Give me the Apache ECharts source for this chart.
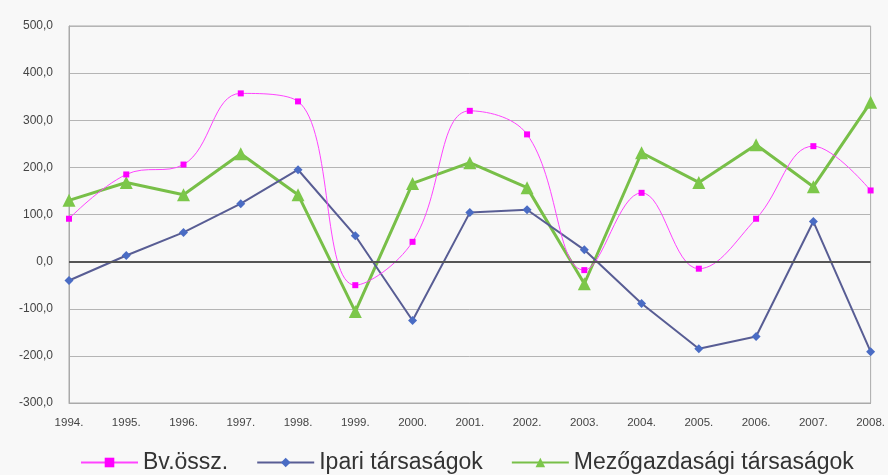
<!DOCTYPE html>
<html>
<head>
<meta charset="utf-8">
<script src="https://cdn.jsdelivr.net/npm/echarts@6/dist/echarts.min.js"></script>
<style>
  html, body { margin: 0; padding: 0; background: #f8f8f8; }
  #chart { width: 888px; height: 475px; }
</style>
</head>
<body>
<div id="chart"></div>
<script>
const years = ['1994.', '1995.', '1996.', '1997.', '1998.', '1999.', '2000.', '2001.', '2002.', '2003.', '2004.', '2005.', '2006.', '2007.', '2008.']
const bvOssz = [91, 185, 206, 357, 340, -50, 42, 320, 270, -18, 146, -15, 91, 245, 151]
const ipari = [-40, 13, 62, 123, 195, 55, -125, 104, 110, 25, -89, -185, -159, 85, -191]
const mezogazdasagi = [130, 168, 142, 229, 142, -106, 166, 210, 157, -47, 231, 168, 248, 159, 338]

const chart = echarts.init(document.getElementById('chart'))

const labelFont = { color: '#444', fontFamily: 'Liberation Sans, Arial, sans-serif' }

chart.setOption({
  backgroundColor: '#f8f8f8',
  animation: false,
  grid: {
    left: 69,
    right: 9,
    top: 26,
    bottom: 72,
    show: true,
    borderColor: '#aaa',
    borderWidth: 1
  },
  legend: {
    left: 75,
    top: 446,
    itemWidth: 57,
    itemHeight: 12,
    itemGap: 28,
    textStyle: { color: '#333', fontSize: 23, fontFamily: 'Liberation Sans, Arial, sans-serif' },
    data: ['Bv.össz.', 'Ipari társaságok', 'Mezőgazdasági társaságok']
  },
  xAxis: {
    type: 'category',
    data: years,
    boundaryGap: false,
    axisLine: { onZero: false, lineStyle: { color: '#aaa' } },
    axisTick: { show: false },
    axisLabel: { ...labelFont, fontSize: 11.5, margin: 14, interval: 0 },
    splitLine: { show: false }
  },
  yAxis: {
    type: 'value',
    min: -300,
    max: 500,
    interval: 100,
    axisLine: { show: true, lineStyle: { color: '#aaa' } },
    axisTick: { show: false },
    axisLabel: {
      ...labelFont,
      fontSize: 12,
      margin: 16,
      formatter: v => v.toFixed(1).replace('.', ',')
    },
    splitLine: { lineStyle: { color: '#b5b5b5', width: 1 } }
  },
  series: [
    {
      name: 'Bv.össz.',
      type: 'line',
      data: bvOssz,
      smooth: 0.4,
      symbol: 'rect',
      symbolSize: 6,
      lineStyle: { color: '#ff44ff', width: 1 },
      itemStyle: { color: '#ff00ff' },
      z: 4
    },
    {
      name: 'Ipari társaságok',
      type: 'line',
      data: ipari,
      symbol: 'diamond',
      symbolSize: 9,
      lineStyle: { color: '#585d94', width: 2 },
      itemStyle: { color: '#4a6cc4' },
      z: 3,
      markLine: {
        silent: true,
        symbol: 'none',
        label: { show: false },
        lineStyle: { color: '#555', width: 2, type: 'solid' },
        data: [{ yAxis: 0 }]
      }
    },
    {
      name: 'Mezőgazdasági társaságok',
      type: 'line',
      data: mezogazdasagi,
      symbol: 'triangle',
      symbolSize: 13,
      lineStyle: { color: '#78bf48', width: 3 },
      itemStyle: { color: '#7cc74a' },
      z: 2
    }
  ]
})
</script>
</body>
</html>
